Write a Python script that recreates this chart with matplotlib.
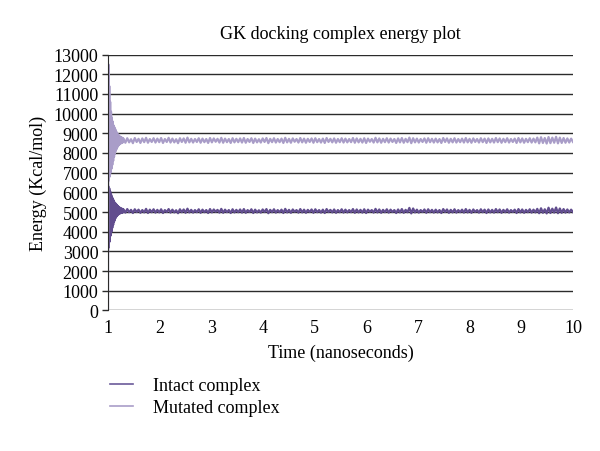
import numpy as np
import matplotlib
matplotlib.use('Agg')
from matplotlib import pyplot as plt

plt.rcParams['font.family'] = ['Liberation Serif', 'DejaVu Serif']

title = 'GK docking complex energy plot'
x_ticks = [1, 2, 3, 4, 5, 6, 7, 8, 9, 10]
y_ticks = list(range(0, 13001, 1000))

# first ~0.3 ns, strong oscillation before settling
intact_start = [3000, 6300, 3200, 6200, 3500, 6050, 3800, 5900, 4000, 5800,
                4200, 5700, 4350, 5600, 4500, 5500, 4600, 5450, 4700, 5400,
                4780, 5350, 4840, 5300, 4880, 5260, 4910, 5230, 4930, 5200,
                4950, 5180, 4960, 5160, 4970, 5150]
mutated_start = [0, 12500, 6600, 11400, 6800, 10600, 7000, 10100, 7200, 9800,
                 7400, 9600, 7600, 9400, 7800, 9300, 7950, 9200, 8100, 9100,
                 8200, 9000, 8300, 8950, 8380, 8900, 8420, 8850, 8460, 8820,
                 8490, 8790, 8510, 8770, 8530, 8750]

# rest of the run, 1.3 - 10 ns
intact_rest = [
    5130, 4970, 5150, 4990, 5110, 4950, 5140, 5000, 5120, 4960, 5100, 4980, 5160, 4950, 5120, 4990, 5140, 4970, 5110, 4980,
    5140, 4950, 5100, 5000, 5150, 4970, 5120, 4980, 5090, 4940, 5140, 4990, 5130, 4960, 5170, 4980, 5110, 4970, 5100, 4990,
    5140, 4960, 5120, 4990, 5100, 4950, 5150, 4980, 5130, 5010, 5110, 4970, 5160, 4960, 5120, 4990, 5100, 4950, 5140, 4980,
    5110, 4990, 5130, 4970, 5150, 4960, 5100, 5000, 5140, 4950, 5120, 4980, 5090, 4970, 5130, 5000, 5150, 4940, 5110, 4990,
    5140, 4970, 5100, 4990, 5120, 4950, 5160, 4980, 5110, 4960, 5130, 5010, 5100, 4970, 5150, 4980, 5120, 4960, 5110, 5000,
    5130, 4960, 5140, 4990, 5100, 4970, 5120, 4950, 5150, 5000, 5110, 4980, 5130, 4960, 5100, 4990, 5140, 4970, 5120, 4980,
    5100, 4990, 5150, 4960, 5130, 4980, 5110, 4970, 5140, 4950, 5120, 5010, 5100, 4970, 5160, 4980, 5130, 4960, 5110, 4990,
    5140, 4970, 5120, 5000, 5100, 4950, 5130, 4980, 5150, 4960, 5110, 4990, 5210, 4930, 5180, 4980, 5120, 4970, 5100, 5000,
    5130, 4960, 5140, 4990, 5110, 4970, 5120, 4980, 5100, 4950, 5150, 5000, 5130, 4960, 5110, 4980, 5140, 4970, 5100, 4990,
    5120, 4970, 5150, 4980, 5110, 4960, 5130, 5000, 5100, 4970, 5140, 4990, 5120, 4950, 5130, 4980, 5110, 4970, 5150, 4990,
    5130, 4960, 5110, 4990, 5140, 4970, 5100, 5000, 5120, 4950, 5150, 4980, 5130, 4960, 5110, 4990, 5140, 4970, 5120, 4980,
    5160, 4940, 5190, 4960, 5140, 4930, 5220, 4950, 5170, 4970, 5230, 4940, 5180, 4960, 5150, 4970, 5130, 4980, 5120, 5000,
]
mutated_rest = [
    8730, 8520, 8750, 8540, 8700, 8500, 8760, 8560, 8720, 8510, 8740, 8550, 8770, 8520, 8710, 8560, 8750, 8530, 8730, 8550,
    8760, 8510, 8710, 8560, 8770, 8530, 8730, 8540, 8700, 8500, 8750, 8560, 8740, 8520, 8780, 8540, 8720, 8530, 8710, 8560,
    8750, 8520, 8730, 8550, 8710, 8510, 8760, 8540, 8740, 8570, 8720, 8530, 8770, 8520, 8730, 8550, 8710, 8510, 8750, 8540,
    8720, 8550, 8740, 8530, 8760, 8520, 8710, 8560, 8750, 8510, 8730, 8540, 8700, 8530, 8740, 8560, 8760, 8500, 8720, 8550,
    8750, 8530, 8710, 8550, 8730, 8510, 8770, 8540, 8720, 8520, 8740, 8570, 8710, 8530, 8760, 8540, 8730, 8520, 8720, 8560,
    8740, 8520, 8750, 8550, 8710, 8530, 8730, 8510, 8760, 8560, 8720, 8540, 8740, 8520, 8710, 8550, 8750, 8530, 8730, 8540,
    8710, 8550, 8760, 8520, 8740, 8540, 8720, 8530, 8750, 8510, 8730, 8570, 8710, 8530, 8770, 8540, 8740, 8520, 8720, 8550,
    8750, 8530, 8730, 8560, 8710, 8510, 8740, 8540, 8760, 8520, 8720, 8550, 8780, 8500, 8750, 8540, 8730, 8530, 8710, 8560,
    8740, 8520, 8750, 8550, 8720, 8530, 8730, 8540, 8710, 8510, 8760, 8560, 8740, 8520, 8720, 8540, 8750, 8530, 8710, 8550,
    8730, 8530, 8760, 8540, 8720, 8520, 8740, 8560, 8710, 8530, 8750, 8550, 8730, 8510, 8740, 8540, 8720, 8530, 8760, 8550,
    8740, 8520, 8720, 8550, 8750, 8530, 8710, 8560, 8730, 8510, 8760, 8540, 8740, 8520, 8720, 8550, 8750, 8530, 8730, 8540,
    8780, 8490, 8800, 8510, 8760, 8480, 8810, 8500, 8780, 8520, 8820, 8490, 8780, 8510, 8760, 8520, 8740, 8530, 8730, 8560,
]

intact = intact_start + intact_rest
mutated = mutated_start + mutated_rest
t_start = np.linspace(1.0, 1.3, len(intact_start), endpoint=False)
t_rest = np.linspace(1.3, 10.0, len(intact_rest))
t = np.concatenate([t_start, t_rest])

c_intact = '#614d8e'
c_mutated = '#a99dc8'

fig = plt.figure(figsize=(6.0, 4.52), dpi=100)
ax = fig.add_axes([0.18, 0.311, 0.775, 0.566])

for yv in y_ticks:
    ax.axhline(yv, color='#2b2b2b', lw=1.0, zorder=1)

ax.plot(t, intact, color=c_intact, lw=1.6, zorder=3)
ax.plot(t, mutated, color=c_mutated, lw=1.6, zorder=4)

ax.set_xlim(1, 10)
ax.set_ylim(0, 13000)
ax.set_xticks(x_ticks)
ax.set_yticks(y_ticks)
ax.tick_params(axis='x', length=0, pad=6, labelsize=13)
ax.tick_params(axis='y', length=4, width=1, color='#2b2b2b', pad=3, labelsize=13)
for s in ['top', 'right', 'bottom']:
    ax.spines[s].set_visible(False)
ax.spines['left'].set_color('#2b2b2b')
ax.spines['left'].set_zorder(5)

ax.set_title(title, fontsize=13, pad=12)
ax.set_xlabel('Time (nanoseconds)', fontsize=13, labelpad=6)
ax.set_ylabel('Energy (Kcal/mol)', fontsize=13, labelpad=5)

h1, = ax.plot([], [], color='#6b5a9a', lw=1.2)
h2, = ax.plot([], [], color='#a99dc8', lw=1.2)
fig.legend([h1, h2], ['Intact complex', 'Mutated complex'], loc='upper left',
           bbox_to_anchor=(0.157, 0.2), frameon=False, fontsize=13,
           handlelength=1.25, handletextpad=1.1, labelspacing=0.3)

fig.savefig('out.png', dpi=100)
